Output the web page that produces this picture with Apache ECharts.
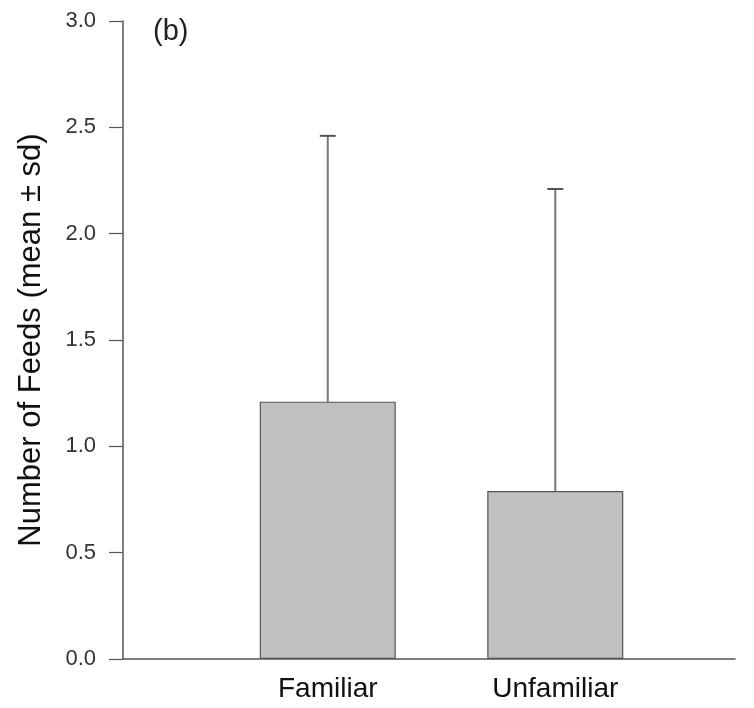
<!DOCTYPE html>
<html>
<head>
<meta charset="utf-8">
<script src="https://cdn.jsdelivr.net/npm/echarts@6/dist/echarts.min.js"></script>
<style>
  html, body { margin: 0; padding: 0; background: #fff; }
  #chart { width: 754px; height: 708px; }
</style>
</head>
<body>
<div id="chart"></div>
<script>
// data
const categories = ['Familiar', 'Unfamiliar']
const positions = [1, 2]
const means = [1.21, 0.79]
const sds = [1.25, 1.42]

const FONT = 'Liberation Sans, Arial, sans-serif'
const AXIS_COLOR = '#555'

const chart = echarts.init(document.getElementById('chart'))

const barData = positions.map((p, i) => [p, means[i]])
const errData = positions.map((p, i) => [p, means[i], means[i] + sds[i]])

const option = {
  backgroundColor: '#fff',
  animation: false,
  grid: { left: 123, right: 19, top: 21, bottom: 49 },
  graphic: [{
    type: 'text',
    left: 153,
    top: 17,
    style: { text: '(b)', font: '29px ' + FONT, fill: '#222' }
  }],
  xAxis: {
    type: 'value',
    min: 0.1,
    max: 2.79,
    splitLine: { show: false },
    axisLine: { lineStyle: { color: AXIS_COLOR, width: 1.5 } },
    axisTick: { show: false },
    axisLabel: {
      customValues: positions,
      formatter: v => categories[positions.indexOf(v)] || '',
      color: '#111',
      fontSize: 28,
      fontFamily: FONT,
      margin: 16
    }
  },
  yAxis: {
    type: 'value',
    min: 0,
    max: 3,
    interval: 0.5,
    name: 'Number of Feeds (mean ± sd)',
    nameLocation: 'middle',
    nameGap: 76,
    nameTextStyle: { fontSize: 31, fontFamily: FONT, color: '#111' },
    splitLine: { show: false },
    axisLine: { show: true, lineStyle: { color: AXIS_COLOR, width: 1.5 } },
    axisTick: { show: true, length: 14, lineStyle: { color: AXIS_COLOR, width: 1.2 } },
    axisLabel: {
      formatter: v => v.toFixed(1),
      color: '#333',
      fontSize: 22,
      fontFamily: FONT,
      margin: 27
    }
  },
  series: [
    {
      type: 'bar',
      data: barData,
      barWidth: 136,
      itemStyle: { color: '#c0c0c0', borderColor: '#555', borderWidth: 1.2 }
    },
    {
      type: 'custom',
      data: errData,
      z: 1,
      renderItem: (params, api) => {
        const base = api.coord([api.value(0), api.value(1)])
        const top = api.coord([api.value(0), api.value(2)])
        const half = 8
        return {
          type: 'group',
          children: [
            { type: 'line', shape: { x1: base[0], y1: base[1], x2: top[0], y2: top[1] },
              style: { stroke: '#777', lineWidth: 2 } },
            { type: 'line', shape: { x1: top[0] - half, y1: top[1], x2: top[0] + half, y2: top[1] },
              style: { stroke: '#555', lineWidth: 2 } }
          ]
        }
      }
    }
  ]
}

chart.setOption(option)
</script>
</body>
</html>
